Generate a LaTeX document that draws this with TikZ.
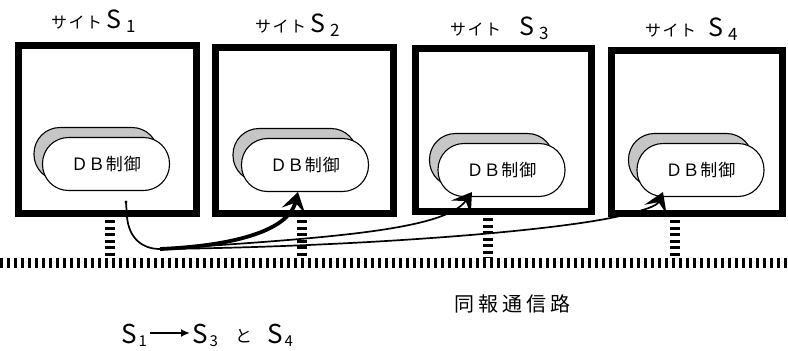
\documentclass[tikz,border=0pt]{standalone}
\usepackage{fontspec}
\setmainfont{Noto Sans CJK JP}
\usetikzlibrary{arrows.meta}
\newcommand\sitelab[2]{{\fontsize{16}{16}\selectfont サ\hspace{1.5pt}イ\hspace{1.5pt}ト}\hspace{#2}{\fontsize{25}{25}\selectfont S}\hspace{5pt}\raisebox{-4pt}{\fontsize{17}{17}\selectfont #1}}
\begin{document}
\begin{tikzpicture}[x=1pt,y=-1pt,
  sitebox/.style={draw, line width=7pt, inner sep=0pt},
  dbfront/.style={draw, line width=1.1pt, fill=white, rounded corners=26pt, minimum width=127pt, minimum height=53pt, inner sep=0pt, font=\fontsize{17}{17}\selectfont},
  dbshadow/.style={draw, line width=1.1pt, fill=gray!45, rounded corners=26pt, minimum width=124pt, minimum height=53pt, inner sep=0pt},
  stub/.style={line width=10pt, dash pattern=on 3pt off 3.5pt},
  bus/.style={line width=10pt, dash pattern=on 3pt off 4pt},
  lab/.style={anchor=base west, inner sep=0pt},
  tipA/.style={-{Stealth[length=19pt 0, width=24pt 0, inset=8pt 0]}},
  msg/.style={line width=1.7pt},
  big/.style={font=\fontsize{26}{26}\selectfont}]
\fill[white] (0,0) rectangle (788,351);
\useasboundingbox (0,0) rectangle (788,351);

% site boxes
\node[sitebox, minimum width=178pt, minimum height=168pt] (b1) at (107.5,129.5) {};
\node[sitebox, minimum width=178pt, minimum height=166pt] (b2) at (304.5,130.5) {};
\node[sitebox, minimum width=176pt, minimum height=163pt] (b3) at (503.5,130) {};
\node[sitebox, minimum width=171pt, minimum height=163pt] (b4) at (697,132) {};

% titles
\node[lab] (t1) at (51,28) {\sitelab{1}{4pt}};
\node[lab] (t2) at (255,32) {\sitelab{2}{4pt}};
\node[lab] (t3) at (450,35) {\sitelab{3}{18pt}};
\node[lab] (t4) at (645,36) {\sitelab{4}{12pt}};

% DB control units
\node[dbshadow] (sh1) at (96,154) {};
\node[dbfront] (db1) at (106,164) {\raisebox{-3pt}{Ｄ\hspace{0pt}Ｂ\hspace{1pt}制\hspace{1pt}御}};
\node[dbshadow] (sh2) at (295,155) {};
\node[dbfront] (db2) at (305,165) {\raisebox{-3pt}{Ｄ\hspace{0pt}Ｂ\hspace{1pt}制\hspace{1pt}御}};
\node[dbshadow] (sh3) at (491.5,160) {};
\node[dbfront] (db3) at (501.5,170) {\raisebox{-3pt}{Ｄ\hspace{0pt}Ｂ\hspace{1pt}制\hspace{1pt}御}};
\node[dbshadow] (sh4) at (690.5,160) {};
\node[dbfront] (db4) at (700.5,170) {\raisebox{-3pt}{Ｄ\hspace{0pt}Ｂ\hspace{1pt}制\hspace{1pt}御}};

% bus and stubs
\coordinate (busL) at (0,263);
\coordinate (busR) at (788,263);
\draw[bus] (busL) -- (busR);
\coordinate (c1) at (110,258);
\coordinate (c2) at (302,258);
\coordinate (c3) at (488,258);
\coordinate (c4) at (675,258);
\draw[stub] (b1.south -| c1) ++(0,3) -- (c1);
\draw[stub] (b2.south -| c2) ++(0,3) -- (c2);
\draw[stub] (b3.south -| c3) ++(0,3) -- (c3);
\draw[stub] (b4.south -| c4) ++(0,3) -- (c4);

% messages
\coordinate (src) at (126,202);
\coordinate (J) at (160,249);
\coordinate (a2) at (298,192);
\coordinate (a3) at (472,192);
\coordinate (a4) at (663,192);
\fill (src) circle (1.6);
\draw[msg] (src) -- (127,217) .. controls (129,238) and (142,249) .. (J);
\draw[msg, line width=3.8pt, tipA] (J) .. controls (230,246) and (288,232) .. (a2);
\draw[msg, tipA] (J) .. controls (330,238) and (445,230) .. (a3);
\draw[msg, tipA] (J) .. controls (350,247) and (550,232) .. (620,216) .. controls (645,210) and (657,206) .. (a4);

% bus label
\node[inner sep=0pt, font=\fontsize{20}{20}\selectfont] (buslab) at (512,304) {同\hspace{4pt}報\hspace{4pt}通\hspace{4pt}信\hspace{4pt}路};

% formula
\node[lab, big] (f1) at (121,343) {S\hspace{2pt}\raisebox{-3pt}{\fontsize{15}{15}\selectfont 1}};
\node[lab, big] (f3) at (192,343) {S\hspace{2pt}\raisebox{-3pt}{\fontsize{15}{15}\selectfont 3}};
\node[lab, font=\fontsize{17}{17}\selectfont] (fto) at (235,342) {と};
\node[lab, big] (f4) at (267,343) {S\hspace{2pt}\raisebox{-3pt}{\fontsize{15}{15}\selectfont 4}};
\coordinate (ar) at (0,333);
\draw[line width=1.8pt, -{Latex[length=9pt,width=8pt]}] ([xshift=3pt]f1.east |- ar) -- ([xshift=-2pt]f3.west |- ar);
\end{tikzpicture}
\end{document}
